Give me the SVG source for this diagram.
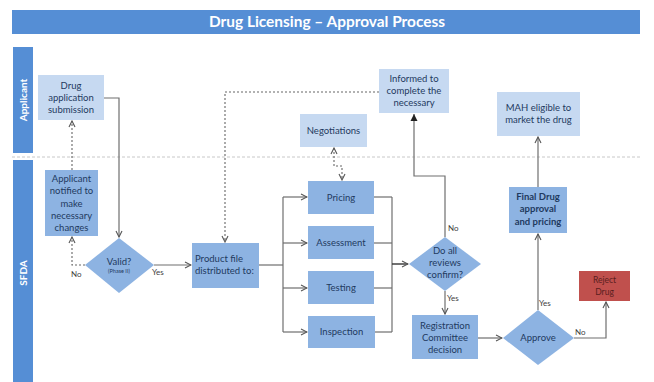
<svg xmlns="http://www.w3.org/2000/svg" width="654" height="382" viewBox="0 0 654 382">
  <style>
    .lt { fill: #c6d9f1; }
    .md { fill: #8db3e2; }
    .lane { fill: #558ed5; }
    .t { font-family: Lato, "Open Sans", sans-serif; font-size: 9.5px; fill: #1f3a5f; text-anchor: middle; }
    .b { font-weight: bold; }
    .lbl { font-family: Lato, "Open Sans", sans-serif; font-size: 8px; fill: #404040; }
    .ln { fill: none; stroke: #6f6f6f; stroke-width: 1.2; }
    .dash { fill: none; stroke: #666; stroke-width: 1.1; stroke-dasharray: 2 2; }
  </style>
  <defs>
    <marker id="arr" markerWidth="8" markerHeight="8" refX="7" refY="4" orient="auto" markerUnits="userSpaceOnUse">
      <path d="M1,1 L7,4 L1,7" fill="none" stroke="#555" stroke-width="1.1"/>
    </marker>
    <marker id="arrS" markerWidth="8" markerHeight="8" refX="7" refY="4" orient="auto-start-reverse" markerUnits="userSpaceOnUse">
      <path d="M1,1 L7,4 L1,7" fill="none" stroke="#555" stroke-width="1.1"/>
    </marker>
    <marker id="arrF" markerWidth="8" markerHeight="8" refX="7" refY="4" orient="auto" markerUnits="userSpaceOnUse">
      <path d="M0,0.5 L7,4 L0,7.5 Z" fill="#222"/>
    </marker>
  </defs>
  <rect width="654" height="382" fill="#ffffff"/>

  <!-- title bar -->
  <g id="title">
    <rect x="12" y="10" width="628" height="24" class="lane"/>
    <text x="327" y="27" font-family="Lato, 'Open Sans', sans-serif" font-size="15" font-weight="bold" fill="#ffffff" text-anchor="middle" textLength="236" lengthAdjust="spacingAndGlyphs">Drug Licensing – Approval Process</text>
  </g>

  <!-- swimlanes -->
  <g id="lanes">
    <rect x="13" y="47" width="20" height="106" class="lane"/>
    <text transform="translate(27 100) rotate(-90)" font-family="Lato, 'Open Sans', sans-serif" font-size="10" font-weight="bold" fill="#ffffff" text-anchor="middle">Applicant</text>
    <rect x="13" y="160" width="20" height="222" class="lane"/>
    <text transform="translate(27 273) rotate(-90)" font-family="Lato, 'Open Sans', sans-serif" font-size="10" font-weight="bold" fill="#ffffff" text-anchor="middle">SFDA</text>
    <line x1="12" y1="157" x2="640" y2="157" stroke="#c8c8c8" stroke-width="1" stroke-dasharray="3 2"/>
  </g>

  <!-- connectors -->
  <g id="connectors">
    <polyline class="ln" points="104,98 119,98 119,237" marker-end="url(#arr)"/>
    <polyline class="dash" points="85,265 72,265 72,237" marker-end="url(#arr)"/>
    <line class="dash" x1="72" y1="170" x2="72" y2="121" marker-end="url(#arr)"/>
    <line class="ln" x1="154" y1="265" x2="191" y2="265" marker-end="url(#arr)"/>
    <polyline class="dash" points="379,92 225,92 225,242" marker-end="url(#arr)"/>
    <polyline class="dash" points="334,148 334,166 342,166 342,180" marker-start="url(#arrS)" marker-end="url(#arr)"/>
    <!-- fan-out to reviews -->
    <line class="ln" x1="259" y1="265" x2="283" y2="265"/>
    <line class="ln" x1="283" y1="197" x2="283" y2="332"/>
    <line class="ln" x1="283" y1="197" x2="307" y2="197" marker-end="url(#arr)"/>
    <line class="ln" x1="283" y1="243" x2="307" y2="243" marker-end="url(#arr)"/>
    <line class="ln" x1="283" y1="288" x2="307" y2="288" marker-end="url(#arr)"/>
    <line class="ln" x1="283" y1="332" x2="307" y2="332" marker-end="url(#arr)"/>
    <!-- fan-in -->
    <line class="ln" x1="374" y1="197" x2="392" y2="197"/>
    <line class="ln" x1="374" y1="243" x2="392" y2="243"/>
    <line class="ln" x1="374" y1="288" x2="392" y2="288"/>
    <line class="ln" x1="375" y1="332" x2="392" y2="332"/>
    <line class="ln" x1="392" y1="197" x2="392" y2="332"/>
    <line x1="392" y1="264" x2="408" y2="264" stroke="#333" stroke-width="1.4" marker-end="url(#arr)"/>
    <!-- review outcomes -->
    <polyline class="ln" points="445,237 445,176 414,176 414,114" marker-end="url(#arrF)"/>
    <line class="ln" x1="445" y1="291" x2="445" y2="314" marker-end="url(#arr)"/>
    <line class="ln" x1="478" y1="338" x2="502" y2="338" marker-end="url(#arr)"/>
    <line class="ln" x1="538" y1="310" x2="538" y2="234" marker-end="url(#arr)"/>
    <line class="ln" x1="538" y1="187" x2="538" y2="137" marker-end="url(#arr)"/>
    <polyline class="ln" points="574,338 606,338 606,302" marker-end="url(#arr)"/>
    <!-- connector labels -->
    <text class="lbl" x="71" y="277">No</text>
    <text class="lbl" x="152" y="275">Yes</text>
    <text class="lbl" x="448" y="231">No</text>
    <text class="lbl" x="447" y="301">Yes</text>
    <text class="lbl" x="539" y="306">Yes</text>
    <text class="lbl" x="575" y="335">No</text>
  </g>

  <g id="drug-application">
    <rect x="38" y="75" width="66" height="45" class="lt"/>
    <text class="t" x="71" y="89">Drug</text>
    <text class="t" x="71" y="101">application</text>
    <text class="t" x="71" y="113">submission</text>
  </g>

  <g id="applicant-notified">
    <rect x="45" y="170" width="53" height="66" class="md"/>
    <text class="t" x="71.5" y="182">Applicant</text>
    <text class="t" x="71.5" y="194">notified to</text>
    <text class="t" x="71.5" y="207">make</text>
    <text class="t" x="71.5" y="219">necessary</text>
    <text class="t" x="71.5" y="231">changes</text>
  </g>

  <g id="valid">
    <polygon points="119,238 154,265 119,293 85,265" class="md"/>
    <text class="t" x="119" y="265">Valid?</text>
    <text class="t" x="119" y="273" style="font-size:5.5px">(Phase II)</text>
  </g>

  <g id="product-file">
    <rect x="192" y="243" width="67" height="45" class="md"/>
    <text class="t" x="195" y="262" text-anchor="start" style="text-anchor:start">Product file</text>
    <text class="t" x="195" y="274" style="text-anchor:start">distributed to:</text>
  </g>

  <g id="negotiations">
    <rect x="300" y="114" width="67" height="33" class="lt"/>
    <text class="t" x="333.5" y="134">Negotiations</text>
  </g>

  <g id="pricing">
    <rect x="308" y="181" width="66" height="33" class="md"/>
    <text class="t" x="341" y="201">Pricing</text>
  </g>

  <g id="assessment">
    <rect x="308" y="226" width="66" height="33" class="md"/>
    <text class="t" x="341" y="246">Assessment</text>
  </g>

  <g id="testing">
    <rect x="308" y="271" width="66" height="33" class="md"/>
    <text class="t" x="341" y="291">Testing</text>
  </g>

  <g id="inspection">
    <rect x="308" y="316" width="67" height="32" class="md"/>
    <text class="t" x="341.5" y="335">Inspection</text>
  </g>

  <g id="informed">
    <rect x="379" y="69" width="70" height="44" class="lt"/>
    <text class="t" x="414" y="82">Informed to</text>
    <text class="t" x="414" y="94">complete the</text>
    <text class="t" x="414" y="106">necessary</text>
  </g>

  <g id="reviews-confirm">
    <polygon points="445,237 481,264 445,291 409,264" class="md"/>
    <text class="t" x="445" y="254">Do all</text>
    <text class="t" x="445" y="266">reviews</text>
    <text class="t" x="445" y="278">confirm?</text>
  </g>

  <g id="registration">
    <rect x="412" y="315" width="66" height="44" class="md"/>
    <text class="t" x="445" y="329">Registration</text>
    <text class="t" x="445" y="341">Committee</text>
    <text class="t" x="445" y="353">decision</text>
  </g>

  <g id="approve">
    <polygon points="538,310 574,338 538,365 503,338" class="md"/>
    <text class="t" x="538" y="341">Approve</text>
  </g>

  <g id="mah">
    <rect x="497" y="92" width="83" height="44" class="lt"/>
    <text class="t" x="538.5" y="111">MAH eligible to</text>
    <text class="t" x="538.5" y="123">market the drug</text>
  </g>

  <g id="final-approval">
    <rect x="509" y="187" width="58" height="46" class="md"/>
    <text class="t b" x="538" y="200">Final Drug</text>
    <text class="t b" x="538" y="212">approval</text>
    <text class="t b" x="538" y="225">and pricing</text>
  </g>

  <g id="reject">
    <rect x="579" y="271" width="51" height="30" fill="#c0504d"/>
    <text class="t" x="604.5" y="283" style="fill:#5a1e1e;font-size:8.5px">Reject</text>
    <text class="t" x="604.5" y="295" style="fill:#5a1e1e;font-size:8.5px">Drug</text>
  </g>
</svg>
